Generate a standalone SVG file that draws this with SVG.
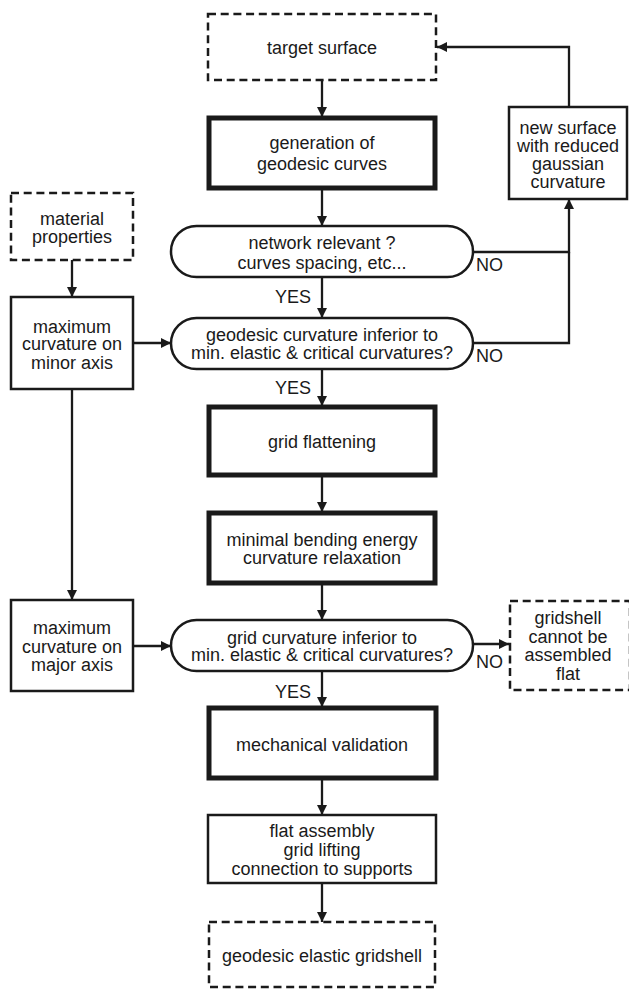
<svg xmlns="http://www.w3.org/2000/svg" width="629" height="990" viewBox="0 0 629 990">
<defs>
<marker id="ah" viewBox="0 0 10 10" refX="10" refY="5" markerWidth="10" markerHeight="10" markerUnits="userSpaceOnUse" orient="auto">
<path d="M0,0 L10,5 L0,10 Z" fill="#1a1a1a"/>
</marker>
<style>
.t{font-family:"Liberation Sans",Arial,sans-serif;font-size:18px;fill:#1a1a1a;text-anchor:middle}
.l{font-family:"Liberation Sans",Arial,sans-serif;font-size:18px;fill:#1a1a1a}
.dash{fill:#fff;stroke:#1a1a1a;stroke-width:2.5;stroke-dasharray:8 4.7}
.thin{fill:#fff;stroke:#1a1a1a;stroke-width:2.5}
.thick{fill:#fff;stroke:#1a1a1a;stroke-width:5}
.pill{fill:#fff;stroke:#1a1a1a;stroke-width:2.5}
.c{fill:none;stroke:#1a1a1a;stroke-width:2.3}
.ca{fill:none;stroke:#1a1a1a;stroke-width:2.3;marker-end:url(#ah)}
</style>
</defs>
<rect width="629" height="990" fill="#fff"/>
<g id="connectors">
<line class="ca" x1="322" y1="80" x2="322" y2="117"/>
<line class="ca" x1="322" y1="188" x2="322" y2="226"/>
<line class="ca" x1="322" y1="277" x2="322" y2="318"/>
<line class="ca" x1="322" y1="369" x2="322" y2="406"/>
<line class="ca" x1="322" y1="475" x2="322" y2="512"/>
<line class="ca" x1="322" y1="583" x2="322" y2="620"/>
<line class="ca" x1="322" y1="671" x2="322" y2="707"/>
<line class="ca" x1="322" y1="778" x2="322" y2="815"/>
<line class="ca" x1="322" y1="883" x2="322" y2="922"/>
<path class="ca" d="M473,252 H569 V199"/>
<path class="c" d="M473,343 H569 V252"/>
<path class="ca" d="M569,107 V47 H437"/>
<line class="ca" x1="72" y1="260" x2="72" y2="297"/>
<line class="ca" x1="133" y1="343" x2="171" y2="343"/>
<line class="ca" x1="72" y1="389" x2="72" y2="600"/>
<line class="ca" x1="133" y1="646" x2="171" y2="646"/>
<line class="ca" x1="473" y1="644" x2="509" y2="644"/>
<text class="l" x="311" y="303" text-anchor="end">YES</text>
<text class="l" x="311" y="394" text-anchor="end">YES</text>
<text class="l" x="311" y="698" text-anchor="end">YES</text>
<text class="l" x="476" y="271">NO</text>
<text class="l" x="476" y="362">NO</text>
<text class="l" x="476" y="668">NO</text>
</g>
<g id="target-surface">
<rect class="dash" x="208" y="14" width="228" height="66"/>
<text class="t" x="322" y="54">target surface</text>
</g>
<g id="generation">
<rect class="thick" x="209" y="118" width="226" height="70"/>
<text class="t" x="322" y="149">generation of</text>
<text class="t" x="322" y="170">geodesic curves</text>
</g>
<g id="new-surface">
<rect class="thin" x="509" y="107" width="118" height="92"/>
<text class="t" x="568" y="134">new surface</text>
<text class="t" x="568" y="152">with reduced</text>
<text class="t" x="568" y="170">gaussian</text>
<text class="t" x="568" y="188">curvature</text>
</g>
<g id="material">
<rect class="dash" x="11" y="193" width="122" height="67"/>
<text class="t" x="72" y="225">material</text>
<text class="t" x="72" y="243">properties</text>
</g>
<g id="network">
<rect class="pill" x="171" y="226" width="302" height="51" rx="25.5"/>
<text class="t" x="322" y="249">network relevant ?</text>
<text class="t" x="322" y="269">curves spacing, etc...</text>
</g>
<g id="minor-axis">
<rect class="thin" x="11" y="297" width="122" height="92"/>
<text class="t" x="72" y="333">maximum</text>
<text class="t" x="72" y="350">curvature on</text>
<text class="t" x="72" y="369">minor axis</text>
</g>
<g id="geodesic-check">
<rect class="pill" x="171" y="318" width="302" height="51" rx="25.5"/>
<text class="t" x="322" y="341">geodesic curvature inferior to</text>
<text class="t" x="322" y="359">min. elastic &amp; critical curvatures?</text>
</g>
<g id="grid-flattening">
<rect class="thick" x="209" y="407" width="226" height="68"/>
<text class="t" x="322" y="448">grid flattening</text>
</g>
<g id="minimal-bending">
<rect class="thick" x="209" y="513" width="226" height="70"/>
<text class="t" x="322" y="546">minimal bending energy</text>
<text class="t" x="322" y="564">curvature relaxation</text>
</g>
<g id="major-axis">
<rect class="thin" x="11" y="600" width="122" height="91"/>
<text class="t" x="72" y="634">maximum</text>
<text class="t" x="72" y="653">curvature on</text>
<text class="t" x="72" y="671">major axis</text>
</g>
<g id="grid-check">
<rect class="pill" x="171" y="620" width="302" height="51" rx="25.5"/>
<text class="t" x="322" y="644">grid curvature inferior to</text>
<text class="t" x="322" y="661">min. elastic &amp; critical curvatures?</text>
</g>
<g id="gridshell-fail">
<rect class="dash" x="510" y="601" width="120" height="89"/>
<text class="t" x="568" y="624">gridshell</text>
<text class="t" x="568" y="643">cannot be</text>
<text class="t" x="568" y="661">assembled</text>
<text class="t" x="568" y="680">flat</text>
</g>
<g id="mechanical">
<rect class="thick" x="209" y="708" width="227" height="70"/>
<text class="t" x="322" y="751">mechanical validation</text>
</g>
<g id="flat-assembly">
<rect class="thin" x="208" y="815" width="228" height="68"/>
<text class="t" x="322" y="837">flat assembly</text>
<text class="t" x="322" y="856">grid lifting</text>
<text class="t" x="322" y="875">connection to supports</text>
</g>
<g id="result">
<rect class="dash" x="209" y="922" width="226" height="65"/>
<text class="t" x="322" y="962">geodesic elastic gridshell</text>
</g>
</svg>
